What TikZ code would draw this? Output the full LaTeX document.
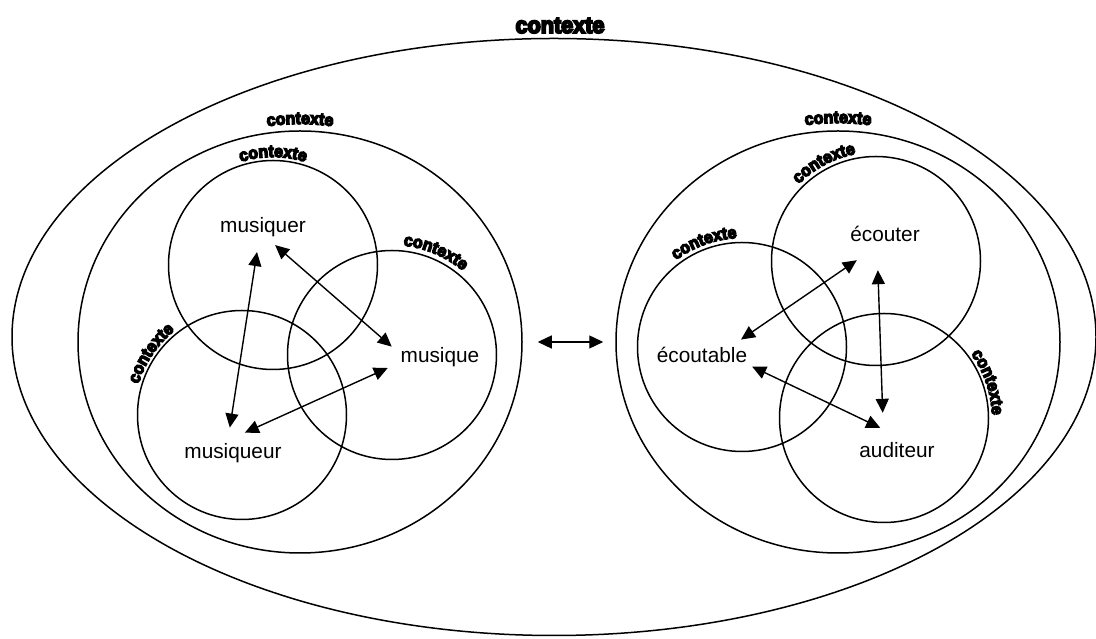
\documentclass[tikz,border=0pt]{standalone}
\usepackage{fontspec}
\setmainfont{Liberation Sans}
\newfontfamily\ctxfont[FakeBold=8,FakeStretch=0.94]{Liberation Sans Bold}
\newcommand{\ctxbig}{\ctxfont\fontsize{23}{26}\selectfont}
\newcommand{\ctxsmall}{\ctxfont\fontsize{17}{19}\selectfont}
\usetikzlibrary{arrows.meta, shapes.geometric, decorations.text}

\tikzset{
    ring/.style={circle, draw, line width=1.5pt, minimum size=209pt, inner sep=0pt},
    oval/.style={ellipse, draw, line width=1.5pt, inner sep=0pt},
    term/.style={anchor=base, inner sep=3pt, font=\fontsize{20.8}{24}\selectfont},
    twoway/.style={{Triangle[length=14pt,width=13pt]}-{Triangle[length=14pt,width=13pt]}, line width=1.4pt},
    ctxarc/.style={decorate, decoration={text along path, text align=center, text={|\ctxsmall|contexte}}}
}

\begin{document}
\begin{tikzpicture}[x=1pt, y=1pt]
    \useasboundingbox (0, 0) rectangle (1096, 639);
    \node[oval, minimum width=1084pt, minimum height=597pt] (world) at (554, 302) {};
    \node[oval, minimum width=444pt, minimum height=422pt] (making) at (300, 297) {};
    \node[oval, minimum width=444pt, minimum height=422pt] (hearing) at (838, 297) {};
    \node[ring] (musiquerring) at (273, 374) {};
    \node[ring] (musiquering) at (392, 284) {};
    \node[ring] (musiqueurring) at (242, 224) {};
    \node[ring] (ecouterring) at (876, 378) {};
    \node[ring] (ecoutablering) at (742, 292) {};
    \node[ring] (auditeurring) at (884, 221) {};
    \node[term] (musiquer) at (263, 406) {musiquer};
    \node[term] (musique) at (440, 276) {musique};
    \node[term] (musiqueur) at (233, 180) {musiqueur};
    \node[term] (ecouter) at (885, 397) {écouter};
    \node[term] (ecoutable) at (702, 276) {écoutable};
    \node[term] (auditeur) at (897, 181) {auditeur};
    \node[anchor=base, inner sep=0pt, font=\ctxbig] (worldctx) at (560, 606) {contexte};
    \path[ctxarc] ([shift={(110:228pt and 218pt)}]making.center) arc[start angle=110, end angle=70, x radius=228pt, y radius=218pt];
    \path[ctxarc] ([shift={(110:230pt and 219pt)}]hearing.center) arc[start angle=110, end angle=70, x radius=230pt, y radius=219pt];
    \path[ctxarc] ([shift={(120:108pt)}]musiquerring.center) arc[start angle=120, end angle=60, radius=108pt];
    \path[ctxarc] ([shift={(97:110pt)}]musiquering.center) arc[start angle=97, end angle=37, radius=110pt];
    \path[ctxarc] ([shift={(176:108pt)}]musiqueurring.center) arc[start angle=176, end angle=116, radius=108pt];
    \path[ctxarc] ([shift={(148:109pt)}]ecouterring.center) arc[start angle=148, end angle=88, radius=109pt];
    \path[ctxarc] ([shift={(140:109pt)}]ecoutablering.center) arc[start angle=140, end angle=80, radius=109pt];
    \path[ctxarc] ([shift={(49:108pt)}]auditeurring.center) arc[start angle=49, end angle=-11, radius=108pt];
    \draw[twoway, shorten <=11.7pt, shorten >=13.3pt] (musiquer.-108) -- (musiqueur.112);
    \draw[twoway, shorten <=7pt, shorten >=7.6pt] (musiquer.-62) -- (musique.172);
    \draw[twoway, shorten <=10.7pt, shorten >=19.6pt] (musique.188) -- (musiqueur.115);
    \draw[twoway, shorten <=26.2pt, shorten >=8.7pt] (ecouter.-121) -- (ecoutable.19);
    \draw[twoway, shorten <=24.8pt, shorten >=26.9pt] (ecouter.-126) -- (auditeur.141);
    \draw[twoway, shorten <=2pt, shorten >=27.7pt] (ecoutable.-12) -- (auditeur.53);
    \draw[twoway, shorten <=15pt, shorten >=12pt] (making.east) -- (hearing.west);
\end{tikzpicture}
\end{document}
